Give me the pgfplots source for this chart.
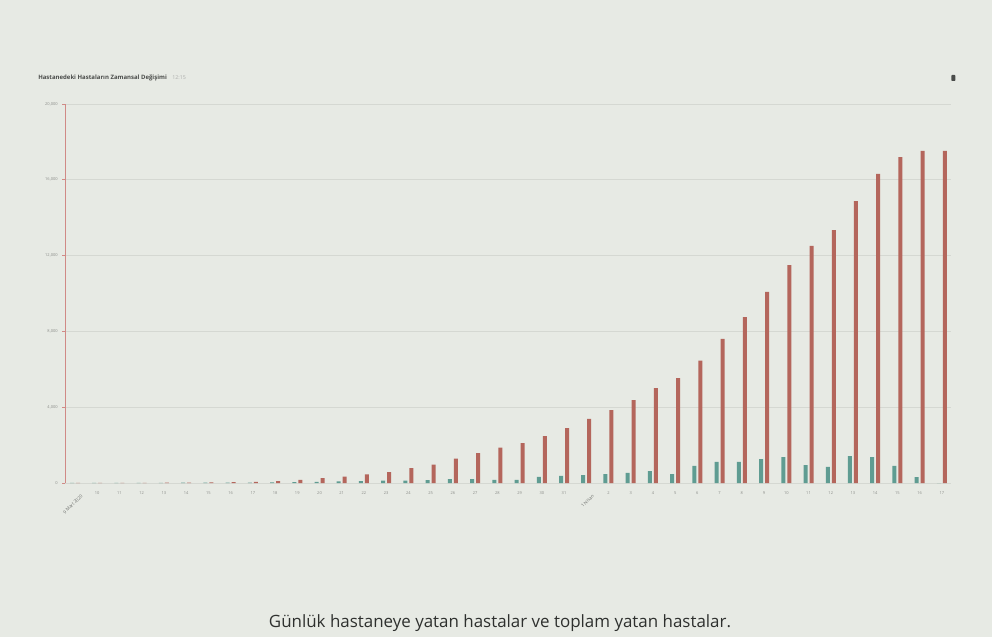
\documentclass[border=0pt]{standalone}
\usepackage{fontspec}
\setmainfont{Open Sans}
\usepackage{pgfplots}
\usepackage{pgfplotstable}
\pgfplotsset{compat=1.18}

\definecolor{bg}{HTML}{E7EAE4}
\definecolor{totalred}{HTML}{B4665C}
\definecolor{dailyteal}{HTML}{5F9C92}
\definecolor{axispink}{HTML}{D08A86}
\definecolor{gridgray}{HTML}{D5D8D2}
\definecolor{labelgray}{HTML}{8A8C88}
\definecolor{titlegray}{HTML}{4A4C4A}
\definecolor{captiongray}{HTML}{2E302E}

% day index, daily admissions, total hospitalised
\pgfplotstableread{
idx daily total
0   5     3
1   5     5
2   8     8
3   10    10
4   12    15
5   15    20
6   18    30
7   20    40
8   25    60
9   30    100
10  40    160
11  60    260
12  80    340
13  100   450
14  130   580
15  130   790
16  150   975
17  200   1290
18  200   1580
19  160   1870
20  170   2110
21  320   2480
22  370   2900
23  420   3380
24  475   3850
25  530   4380
26  630   5010
27  475   5540
28  900   6460
29  1110  7600
30  1110  8760
31  1265  10080
32  1370  11500
33  950   12510
34  845   13350
35  1425  14880
36  1370  16310
37  900   17200
38  315   17520
39  0     17520
}\hospdata

\begin{document}
\begin{tikzpicture}
% page background
\path[fill=bg] (0,0) rectangle (744pt,477.75pt);

% header
\node[anchor=west, inner sep=0, text=titlegray, font=\fontsize{4.5}{5}\selectfont\bfseries]
  at (28.5pt,419.25pt) {Hastanedeki Hastaların Zamansal Değişimi};
\node[anchor=west, inner sep=0, text=labelgray!70, font=\fontsize{4}{5}\selectfont]
  at (129pt,419.25pt) {12:15};
\fill[titlegray, rounded corners=0.6pt] (713.5pt,417pt) rectangle (716.5pt,421.5pt);

\begin{axis}[
  at={(48.75pt,115.5pt)}, anchor=south west,
  scale only axis, width=664.5pt, height=284.25pt,
  xmin=-0.45, xmax=39.41, ymin=0, ymax=20000,
  axis y line=left, axis x line=bottom,
  y axis line style={-, draw=axispink, line width=0.6pt},
  x axis line style={draw=none},
  ytick={0,4000,8000,12000,16000,20000},
  scaled y ticks=false,
  ymajorgrids, grid style={gridgray, line width=0.6pt},
  /pgf/number format/fixed,
  /pgf/number format/1000 sep={,},
  /pgf/number format/assume math mode=true,
  ticklabel style={font=\fontsize{3}{3.5}\selectfont, text=labelgray},
  ytick style={draw=axispink, line width=0.5pt},
  tick align=outside, major tick length=2pt,
  xtick={1,...,22,24,25,...,39},
  xticklabels={10,11,12,13,14,15,16,17,18,19,20,21,22,23,24,25,26,27,28,29,30,31,
    2,3,4,5,6,7,8,9,10,11,12,13,14,15,16,17},
  xtick style={draw=none},
  extra x ticks={0,23},
  extra x tick labels={9 Mart 2020,1 Nisan},
  extra x tick style={tick label style={rotate=45, anchor=north east,
    yshift=-3pt, xshift=2pt, font=\fontsize{3.4}{4}\selectfont, text=labelgray!80!black}},
  xticklabel style={yshift=-1pt},
]
\addplot[ybar, bar width=3pt, bar shift=-2.25pt, fill=dailyteal, draw=none]
  table[x=idx, y=daily] {\hospdata};
\addplot[ybar, bar width=3pt, bar shift=2.25pt, fill=totalred, draw=none]
  table[x=idx, y=total] {\hospdata};
\end{axis}

% caption
\node[anchor=base, inner sep=0, text=captiongray, font=\fontsize{12.7}{14}\selectfont]
  at (375pt,7.5pt) {Günlük hastaneye yatan hastalar ve toplam yatan hastalar.};
\end{tikzpicture}
\end{document}
